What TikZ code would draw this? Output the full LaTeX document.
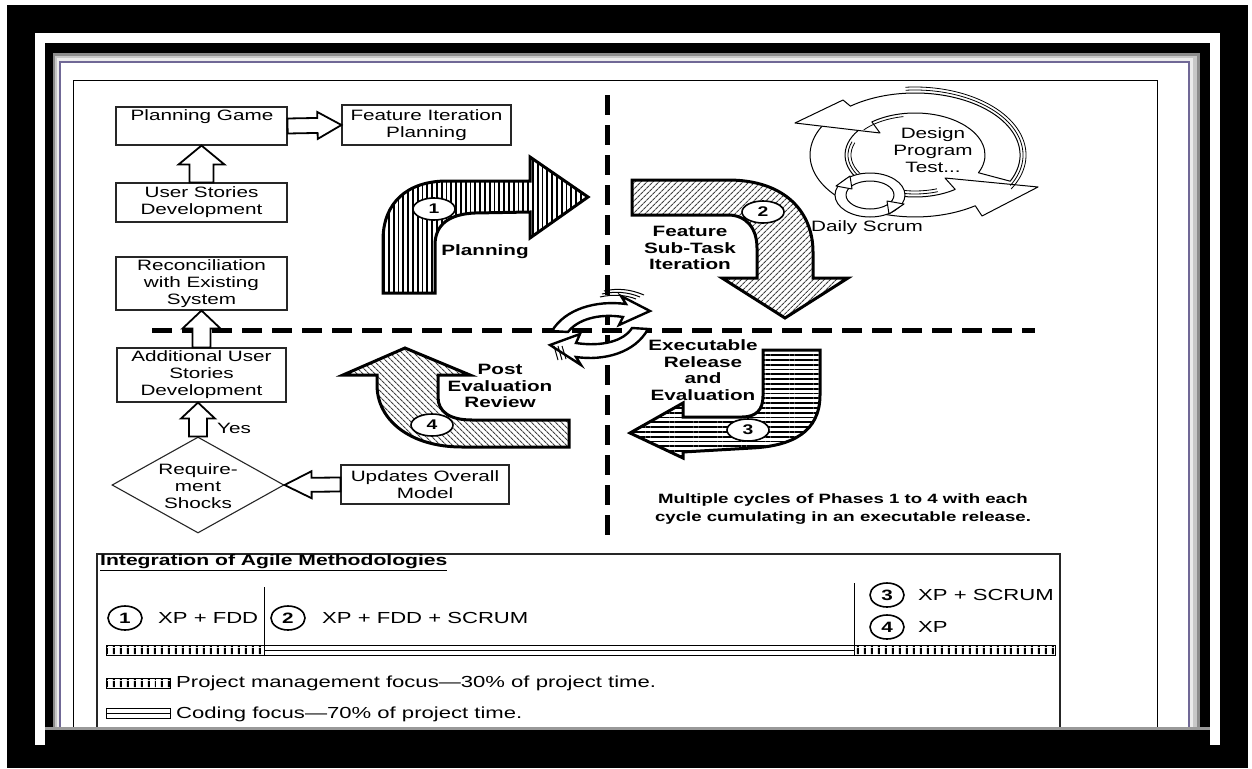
\documentclass[tikz,border=0pt]{standalone}
\usepackage{fontspec}
\setmainfont[FakeStretch=1.38]{Liberation Sans}
\usetikzlibrary{calc,shapes.geometric,patterns.meta}
\definecolor{bevelpurple}{RGB}{112,104,150}
% hollow block arrow: [opts]{tail}{tip}{half shaft}{half head}{head length}
\newcommand\hollowarrow[6][]{%
  \coordinate (ha-h) at ($#3!#6!#2$);
  \draw[holl,#1] ($#2!#4!90:#3$) -- ($(ha-h)!#4!90:#3$) -- ($(ha-h)!#5!90:#3$) -- #3
     -- ($(ha-h)!#5!-90:#3$) -- ($(ha-h)!#4!-90:#3$) -- ($#2!#4!-90:#3$) -- cycle;}
\begin{document}
\begin{tikzpicture}[x=1pt,y=-1pt,
  box/.style={draw=black!85, line width=1.1pt, fill=white, inner sep=0pt, rectangle},
  txt/.style={align=center, inner sep=0pt, font=\fontsize{15}{17}\selectfont},
  ltxt/.style={anchor=west, inner sep=0pt, font=\fontsize{16}{18}\selectfont},
  btxt/.style={align=center, inner sep=0pt, font=\fontsize{15}{16.5}\selectfont\bfseries},
  holl/.style={draw=black, line width=1.8pt, fill=white, line join=miter},
  bigarrow/.style={draw=black, line width=3pt, line join=miter},
  numell/.style={ellipse, draw=black, line width=1.6pt, fill=white, minimum width=42pt,
     minimum height=22pt, inner sep=0pt, font=\fontsize{14}{14}\selectfont\bfseries},
  legell/.style={ellipse, draw=black, line width=1.6pt, minimum width=34pt,
     minimum height=24pt, inner sep=0pt, font=\fontsize{15}{15}\selectfont\bfseries},
  dashline/.style={line width=5pt, dash pattern=on 20pt off 10pt},
  ring/.style={draw=black, line width=1pt, fill=white, line join=round},
  pmhatch/.style={pattern={Lines[angle=90,distance=6.5pt,line width=2.2pt]}},
]
\useasboundingbox (0,0) rectangle (1252,768);

% ---------- picture frame ----------
\fill[white] (0,0) rectangle (1252,768);
\fill[black] (7,5) rectangle (1248,768);
\fill[white] (35,33) rectangle (1220,768);
\fill[black] (45,43) rectangle (1210,768);
\fill[black!45] (53,53) rectangle (1200,728);
\fill[black!22] (55,56) rectangle (1197,728);
\fill[black!8] (57,58) rectangle (1193,728);
\fill[bevelpurple] (59,61) rectangle (1190,728);
\fill[white] (61,63) rectangle (1188,728);
\draw[line width=1pt] (73,80) rectangle (1157,740);

% ---------- process boxes ----------
\node[box, minimum width=171pt, minimum height=38pt] (pg) at (201.5,126) {};
\node[txt] (tpg) at (202,117) {Planning Game};
\node[box, minimum width=169pt, minimum height=40pt, txt] (fip) at (426.5,125) {Feature Iteration\\Planning};
\node[box, minimum width=171pt, minimum height=39pt, txt] (us) at (201.5,202.5) {User Stories\\Development};
\node[box, minimum width=171pt, minimum height=53pt, txt] (rec) at (201.5,283.5) {Reconciliation\\with Existing\\System};
\node[box, minimum width=169pt, minimum height=54pt, txt] (add) at (201.5,375) {Additional User\\Stories\\Development};
\node[box, minimum width=168pt, minimum height=39pt, txt] (upd) at (425,484.5) {Updates Overall\\Model};
\node[diamond, draw=black!85, line width=1.1pt, fill=white, inner sep=0pt,
      minimum width=172pt, minimum height=96pt] (dia) at (198,485) {};
\node[txt] (tdia) at (198,486) {Require-\\ment\\Shocks};
\node[txt, anchor=west] (tyes) at (217,428) {Yes};

% ---------- phase divider lines ----------
\draw[dashline] (607,95) -- (607,545);
\draw[dashline] (152,330) -- (1035,330);

% ---------- hollow connectors ----------
\hollowarrow{(pg.east)}{(fip.west)}{7.5pt}{13.5pt}{24pt}
\hollowarrow{(us.north)}{(pg.south)}{12pt}{23pt}{19pt}
\hollowarrow{(add.north)}{(rec.south)}{9pt}{19pt}{18pt}
\hollowarrow{(dia.north)}{(dia.north |- add.south)}{9pt}{17pt}{16pt}
\hollowarrow{(upd.west)}{(dia.east)}{7pt}{13.5pt}{27pt}

% ---------- phase 1: planning ----------
\draw[bigarrow, pattern={Lines[angle=90,distance=4.8pt,line width=1.8pt]}]
  (383,293) -- (383,240) .. controls (383,203) and (407,181) .. (447,181) -- (530,181)
  -- (530,157) -- (588,197) -- (530,238) -- (530,212) -- (475,213)
  .. controls (450,214) and (435,224) .. (435,245) -- (435,293) -- cycle;
\node[numell] (n1) at (434,209) {1};
\node[btxt] (lp) at (485,252) {Planning};

% ---------- phase 2: feature sub-task iteration ----------
\draw[bigarrow, pattern={Lines[angle=45,distance=4pt,line width=1.2pt]}, pattern color=black!75]
  (632,180) -- (728,180) .. controls (785,180) and (813,212) .. (813,252) -- (813,278)
  -- (848,278) -- (785,318) -- (722,278) -- (757,278) -- (757,248)
  .. controls (757,228) and (746,215) .. (728,215) -- (632,215) -- cycle;
\node[numell] (n2) at (763,212) {2};
\node[btxt] (lf) at (690,248) {Feature\\Sub-Task\\Iteration};

% ---------- phase 3: executable release ----------
\draw[bigarrow, pattern={Lines[angle=0,distance=4.8pt,line width=1.8pt]}]
  (763,350) -- (820,350) -- (820,395) .. controls (820,432) and (792,446) .. (752,448)
  -- (683,452) -- (683,458) -- (630,433) -- (683,403) -- (683,417) -- (742,417)
  .. controls (756,417) and (763,410) .. (763,396) -- cycle;
\node[numell] (n3) at (748,430) {3};
\node[btxt] (le) at (703,370) {Executable\\Release\\and\\Evaluation};

% ---------- phase 4: post evaluation review ----------
\draw[bigarrow, pattern={Lines[angle=-45,distance=4pt,line width=1.2pt]}, pattern color=black!75]
  (405,348) -- (470,375) -- (438,375) -- (438,397) .. controls (438,412) and (450,420) .. (472,420)
  -- (569,420) -- (569,447) -- (462,447) .. controls (410,447) and (377,420) .. (377,385)
  -- (377,375) -- (343,375) -- cycle;
\node[numell] (n4) at (432,425) {4};
\node[btxt] (lr) at (500,386) {Post\\Evaluation\\Review};

% ---------- central cycle symbol ----------
\draw[ring, line width=2.4pt, line join=miter] (552,331) .. controls (565,309) and (596,300) .. (626,304)
  -- (621,296) -- (650,311) -- (619,325) -- (623,317)
  .. controls (598,313) and (577,320) .. (568,332) -- cycle;
\draw[ring, line width=2.4pt, line join=miter] (648,329) .. controls (635,353) and (604,361) .. (576,357)
  -- (581,365) -- (550,345) -- (580,334) -- (576,343)
  .. controls (602,347) and (624,341) .. (632,328) -- cycle;
\draw[line width=1pt] (600,297) .. controls (613,294) and (626,295) .. (636,299)
  (602,294) .. controls (615,291) and (628,292) .. (640,297)
  (604,291) .. controls (617,288) and (630,289) .. (644,295);
\draw[line width=1pt] (554,346) -- (558,360) (558,346) -- (562,360) (562,346) -- (566,359);

% ---------- scrum cycle ----------
\draw[ring] (834.6,115.1) arc[start angle=220, end angle=55, x radius=105, y radius=62]
  -- (982,216) -- (1038,187) -- (945,178) -- (955.2,189.4)
  arc[start angle=55, end angle=220, x radius=70, y radius=42] -- cycle;
\draw[line width=0.8pt] (915,155) ++(200:67 and 39) arc[start angle=200, end angle=70, x radius=67, y radius=39];
\draw[line width=0.8pt] (915,155) ++(200:64 and 36) arc[start angle=200, end angle=70, x radius=64, y radius=36];
\draw[ring] (1010.2,181.2) arc[start angle=25, end angle=-128, x radius=105, y radius=62]
  -- (843,100) -- (795,123) -- (880,133) -- (871.9,121.9)
  arc[start angle=-128, end angle=25, x radius=70, y radius=42] -- cycle;
\draw[line width=0.8pt] (915,155) ++(28:108 and 65) arc[start angle=28, end angle=-95, x radius=108, y radius=65];
\draw[line width=0.8pt] (915,155) ++(30:111 and 68) arc[start angle=30, end angle=-95, x radius=111, y radius=68];
\draw[line width=0.8pt] (915,155) ++(-140:67 and 39) arc[start angle=-140, end angle=-100, x radius=67, y radius=39];
% daily scrum loop
\draw[ring] (870,195) ellipse[x radius=35, y radius=22];
\draw[ring] (870,195) ellipse[x radius=24, y radius=14];
\draw[ring] (836,186) -- (850,176) -- (852,189) -- cycle;
\draw[ring] (904,204) -- (889,214) -- (887,201) -- cycle;
\node[txt] (tdpt) at (933,150) {Design\\Program\\Test...};
\node[txt] (tds) at (867,228) {Daily Scrum};

% ---------- summary note ----------
\node[align=center, inner sep=0pt, font=\fontsize{13.5}{18}\selectfont\bfseries] (note) at (843,509)
  {Multiple cycles of Phases 1 to 4 with each\\cycle cumulating in an executable release.};

% ---------- methodology legend ----------
\node[draw=black!85, line width=1.1pt, fill=white, inner sep=0pt, minimum width=963pt,
      minimum height=176pt] (leg) at (578.5,642) {};
\node[anchor=west, inner sep=0pt, font=\fontsize{15.3}{17}\selectfont\bfseries] (ltitle) at (100,563)
  {\underline{Integration of Agile Methodologies}};
\draw[line width=1pt] (264,587) -- (264,645);
\draw[line width=1pt] (854,583) -- (854,655);
\node[legell] (l1) at (125,618) {1};
\node[ltxt] (x1) at (158,618) {XP + FDD};
\node[legell] (l2) at (288,618) {2};
\node[ltxt] (x2) at (322,618) {XP + FDD + SCRUM};
\node[legell] (l3) at (887,595) {3};
\node[ltxt] (x3) at (918,595) {XP + SCRUM};
\node[legell] (l4) at (887,627) {4};
\node[ltxt] (x4) at (918,627) {XP};
\draw[line width=1pt, pmhatch] (106,645) rectangle (264,655);
\draw[line width=1pt] (264,645) rectangle (854,655) (264,650) -- (854,650);
\draw[line width=1pt, pmhatch] (854,645) rectangle (1055,655);
\draw[line width=1pt, pmhatch] (106,678) rectangle (170,688);
\node[ltxt] (tpm) at (176,683) {Project management focus—30\% of project time.};
\draw[line width=1pt] (106,708) rectangle (170,718) (106,713) -- (170,713);
\node[ltxt] (tcf) at (176,714) {Coding focus—70\% of project time.};

% bottom edge of the frame
\fill[black!40] (45,727) rectangle (1210,730);
\fill[black] (45,730) rectangle (1210,768);
\fill[black] (7,745) rectangle (1248,768);
\end{tikzpicture}
\end{document}
